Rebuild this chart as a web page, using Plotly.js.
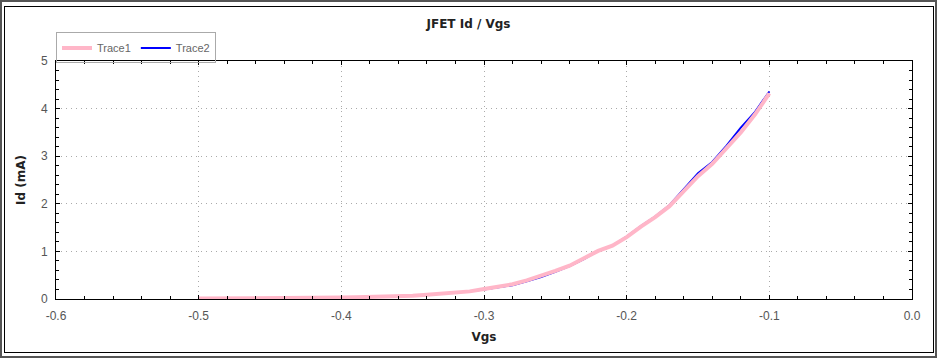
<!DOCTYPE html>
<html>
<head>
<meta charset="utf-8">
<script src="https://cdn.plot.ly/plotly-3.0.1.min.js"></script>
<style>
html,body{margin:0;padding:0;background:#fff;}
#outer{position:absolute;left:0;top:0;width:933px;height:354px;border:2px solid #555;}
#inner{position:absolute;left:4px;top:6px;width:928px;height:345px;border:1px solid #000;}
#chart{position:absolute;left:0;top:0;width:937px;height:358px;}
</style>
</head>
<body>
<div id="outer"></div>
<div id="inner"></div>
<div id="chart"></div>
<script>
const vgs = [-0.50,-0.49,-0.48,-0.47,-0.46,-0.45,-0.44,-0.43,-0.42,-0.41,
             -0.40,-0.39,-0.38,-0.37,-0.36,-0.35,-0.34,-0.33,-0.32,-0.31,
             -0.30,-0.29,-0.28,-0.27,-0.26,-0.25,-0.24,-0.23,-0.22,-0.21,
             -0.20,-0.19,-0.18,-0.17,-0.16,-0.15,-0.14,-0.13,-0.12,-0.11,-0.10];
const trace1Id = [0.01,0.01,0.01,0.01,0.01,0.015,0.015,0.02,0.02,0.025,
                  0.03,0.035,0.04,0.05,0.06,0.07,0.09,0.11,0.13,0.16,
                  0.21,0.26,0.31,0.39,0.48,0.59,0.70,0.85,1.01,1.12,
                  1.30,1.52,1.72,1.95,2.28,2.58,2.84,3.18,3.50,3.88,4.32];
const trace2Id = [0.01,0.01,0.01,0.01,0.01,0.015,0.015,0.02,0.02,0.025,
                  0.03,0.035,0.04,0.05,0.06,0.07,0.09,0.11,0.13,0.16,
                  0.20,0.25,0.29,0.37,0.46,0.57,0.69,0.84,1.01,1.12,
                  1.31,1.53,1.73,1.97,2.30,2.64,2.88,3.22,3.60,3.93,4.36];
const xTickVals = [-0.6,-0.5,-0.4,-0.3,-0.2,-0.1,0.0];
const xTickText = ['-0.6','-0.5','-0.4','-0.3','-0.2','-0.1','0.0'];
const yTickVals = [0,1,2,3,4,5];
const yTickText = ['0','1','2','3','4','5'];

const data = [
  {x: vgs, y: trace2Id, name: 'Trace2', type: 'scatter', mode: 'lines',
   line: {color: '#0000ff', width: 2}, legendrank: 2},
  {x: vgs, y: trace1Id, name: 'Trace1', type: 'scatter', mode: 'lines',
   line: {color: '#ffb6c8', width: 4}, legendrank: 1}
];

const tickFont = {family: 'Liberation Sans, Arial, sans-serif', size: 12, color: '#555'};
const titleFont = {family: 'DejaVu Sans, sans-serif', size: 12, color: '#222', weight: 'bold'};

const layout = {
  width: 937, height: 358,
  paper_bgcolor: 'rgba(0,0,0,0)', plot_bgcolor: 'rgba(0,0,0,0)',
  margin: {l: 56, r: 25, t: 61, b: 59},
  title: {text: '<b>JFET Id / Vgs</b>', font: titleFont, x: 0.5, xanchor: 'center',
          y: 1 - 24/358, yanchor: 'middle'},
  showlegend: true,
  legend: {orientation: 'h', x: 0, xanchor: 'left', y: 1.12, yanchor: 'top',
           bordercolor: '#aaa', borderwidth: 1, bgcolor: 'rgba(0,0,0,0)',
           font: {family: 'Liberation Sans, Arial, sans-serif', size: 11, color: '#666'},
           itemwidth: 30, tracegroupgap: 0},
  xaxis: {range: [-0.6, 0.0], tickvals: xTickVals, ticktext: xTickText,
          showline: true, linecolor: '#000', linewidth: 1, mirror: 'ticks',
          ticks: 'inside', ticklen: 4, tickcolor: '#000', ticklabelstandoff: 6,
          minor: {dtick: 0.02, ticks: 'inside', ticklen: 3, tickcolor: '#000', showgrid: false},
          showgrid: true, gridcolor: '#aaa', griddash: '1px,4px', gridwidth: 1,
          zeroline: false, tickfont: tickFont,
          title: {text: '<b>Vgs</b>', font: titleFont, standoff: 10}},
  yaxis: {range: [0, 5], tickvals: yTickVals, ticktext: yTickText,
          showline: true, linecolor: '#000', linewidth: 1, mirror: 'ticks',
          ticks: 'inside', ticklen: 4, tickcolor: '#000', ticklabelstandoff: 5,
          minor: {dtick: 0.2, ticks: 'inside', ticklen: 3, tickcolor: '#000', showgrid: false},
          showgrid: true, gridcolor: '#aaa', griddash: '1px,4px', gridwidth: 1,
          zeroline: false, tickfont: tickFont,
          title: {text: '<b>Id (mA)</b>', font: titleFont, standoff: 12}},
  xaxis2: {overlaying: 'x', matches: 'x', anchor: 'y', side: 'bottom', range: [-0.6, 0.0],
           tickvals: xTickVals, showticklabels: false, showgrid: false, zeroline: false,
           showline: false, ticks: 'outside', ticklen: 3, tickcolor: '#000'},
  yaxis2: {overlaying: 'y', matches: 'y', anchor: 'x', side: 'left', range: [0, 5],
           tickvals: yTickVals, showticklabels: false, showgrid: false, zeroline: false,
           showline: false, ticks: 'outside', ticklen: 3, tickcolor: '#000'}
};

Plotly.newPlot('chart', data, layout, {displayModeBar: false, staticPlot: true});
</script>
</body>
</html>
